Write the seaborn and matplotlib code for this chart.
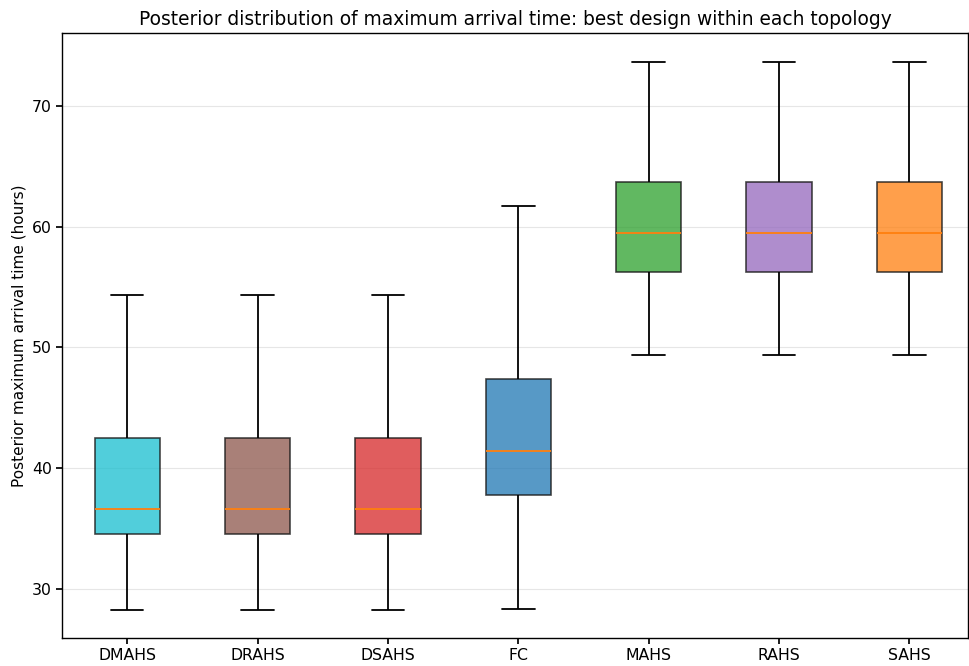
import numpy as np
import pandas as pd
import matplotlib
matplotlib.use("Agg")
import matplotlib.pyplot as plt
import seaborn as sns
from matplotlib.colors import to_rgba

topologies = ["DMAHS", "DRAHS", "DSAHS", "FC", "MAHS", "RAHS", "SAHS"]
whisker_low = [28.2, 28.2, 28.2, 28.34, 49.4, 49.4, 49.4]
q1_vals = [34.56, 34.56, 34.56, 37.8, 56.23, 56.23, 56.23]
medians = [36.57, 36.57, 36.57, 41.41, 59.52, 59.52, 59.52]
q3_vals = [42.45, 42.45, 42.45, 47.42, 63.68, 63.68, 63.68]
whisker_high = [54.33, 54.33, 54.33, 61.72, 73.7, 73.7, 73.7]
colors = ["#17becf", "#8c564b", "#d62728", "#1f77b4", "#2ca02c", "#9467bd", "#ff7f0e"]

rows = []
for t, a, b, c, d, e in zip(topologies, whisker_low, q1_vals, medians, q3_vals, whisker_high):
    for v in (a, b, c, d, e):
        rows.append({"topology": t, "value": v})
df = pd.DataFrame(rows)

sns.set_theme(style="white")
plt.rcParams["font.family"] = ["DejaVu Sans"]
plt.rcParams["text.color"] = "black"
plt.rcParams["axes.labelcolor"] = "black"
plt.rcParams["xtick.color"] = "black"
plt.rcParams["ytick.color"] = "black"

fig = plt.figure(figsize=(9.69, 6.66), dpi=100)
ax = fig.add_axes([0.064, 0.042, 0.935, 0.908])

sns.boxplot(data=df, x="topology", y="value", hue="topology", palette=colors,
            order=topologies, hue_order=topologies, whis=(0, 100), width=0.5,
            legend=False, ax=ax, linecolor="black", linewidth=1.3,
            medianprops=dict(color="#ff7f0e", linewidth=1.3),
            capprops=dict(color="black"), whiskerprops=dict(color="black"))

for patch, col in zip(ax.patches, colors):
    patch.set_facecolor(to_rgba(col, 0.75))
    patch.set_edgecolor((0.1, 0.1, 0.1, 0.8))
    patch.set_linewidth(1.2)

ax.set_ylim(25.9, 76.05)
ax.set_xlim(-0.5, 6.45)
ax.set_yticks([30, 40, 50, 60, 70])
ax.yaxis.grid(True, color="#e6e6e6", linewidth=0.8)
ax.set_axisbelow(True)
ax.set_xlabel("")
ax.set_ylabel("Posterior maximum arrival time (hours)", fontsize=11, color="black")
ax.set_title("Posterior distribution of maximum arrival time: best design within each topology",
             fontsize=13.4, color="black")
ax.tick_params(axis="both", labelsize=11.3, length=4, color="black", labelcolor="black",
               left=True, bottom=True)
for s in ax.spines.values():
    s.set_color("black")
    s.set_linewidth(1.0)

fig.savefig("out.png", dpi=100)
